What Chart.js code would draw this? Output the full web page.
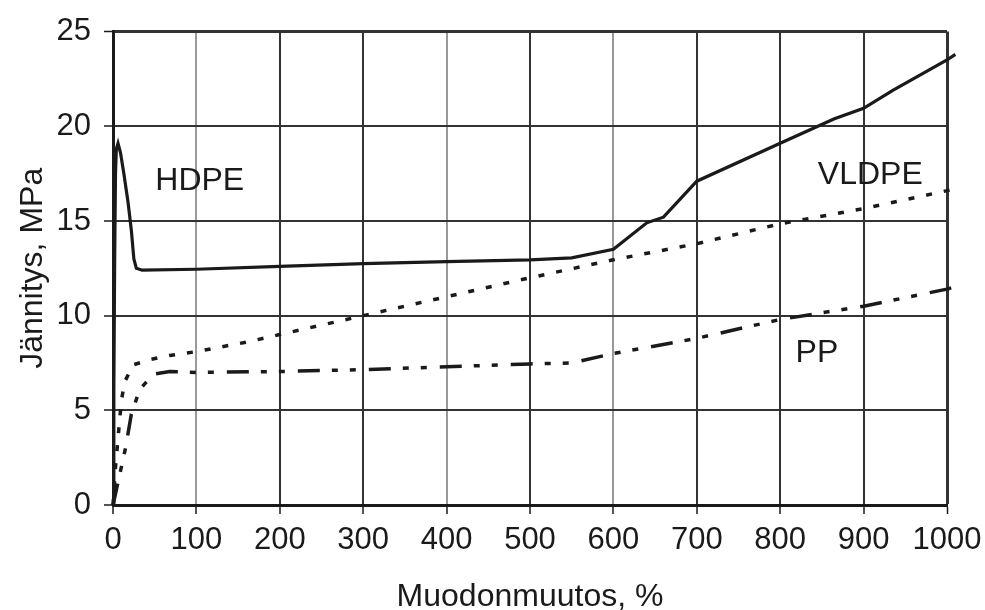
<!DOCTYPE html>
<html>
<head>
<meta charset="utf-8">
<script src="https://cdn.jsdelivr.net/npm/chart.js@4"></script>
<style>
  body { margin: 0; background: #fff; }
  canvas { display: block; }
</style>
</head>
<body>
<canvas id="myChart" width="985" height="610"></canvas>
<script>
// strain % (x) and stress MPa (y)
const hdpeX = [0, 1, 2, 3, 4, 6, 9, 13, 18, 22, 25, 28, 35, 100, 200, 300, 400, 500, 550, 600, 640, 660, 700, 800, 865, 900, 935, 1000, 1010]
const hdpeY = [0, 6, 13, 17.5, 18.8, 19.1, 18.6, 17.5, 16, 14.5, 13, 12.5, 12.4, 12.45, 12.6, 12.75, 12.85, 12.95, 13.05, 13.5, 14.9, 15.2, 17.1, 19.1, 20.4, 20.95, 21.9, 23.5, 23.8]

const vldpeX = [0, 3, 7, 10, 14, 24, 46, 68, 100, 160, 200, 250, 300, 400, 500, 600, 700, 800, 900, 1000, 1012]
const vldpeY = [0, 2, 4, 5.5, 6.5, 7.4, 7.7, 7.9, 8.1, 8.6, 9.0, 9.5, 10.0, 11.0, 12.0, 12.95, 13.8, 14.85, 15.65, 16.6, 16.75]

const ppX = [0, 5, 10, 15, 22, 32, 48, 68, 100, 200, 300, 400, 500, 550, 600, 700, 800, 900, 1000, 1008]
const ppY = [0, 1, 2, 3, 4.8, 6.1, 6.9, 7.05, 7.0, 7.05, 7.15, 7.3, 7.45, 7.5, 8.0, 8.8, 9.8, 10.5, 11.4, 11.5]

const curveNames = ["HDPE", "VLDPE", "PP"]
const xTitle = "Muodonmuutos, %"
const yTitle = "Jännitys, MPa"
const xMax = 1000

// where the curve names sit, in data units
const labelAt = [[104, 17.1], [908, 17.4], [844, 8.0]]

const toPoints = (xs, ys) => xs.map((x, i) => ({ x: x, y: ys[i] }))

const ink = "#1a1a1a"
const fontFamily = "'Liberation Sans', Arial, sans-serif"
const lineClip = { left: 5, top: 5, right: 15, bottom: 5 }

const curveLabels = {
    id: "curveLabels",
    afterDatasetsDraw(chart) {
        const ctx = chart.ctx
        const xs = chart.scales.x
        const ys = chart.scales.y
        ctx.save()
        ctx.fillStyle = ink
        ctx.font = "32px " + fontFamily
        ctx.textAlign = "center"
        ctx.textBaseline = "middle"
        curveNames.forEach((name, i) => {
            ctx.fillText(name, xs.getPixelForValue(labelAt[i][0]), ys.getPixelForValue(labelAt[i][1]))
        })
        ctx.restore()
    }
}

const lightX = [100, 400, 600]
const gridColor = (ctx) => lightX.includes(ctx.tick && ctx.tick.value) ? "#999" : "#333"
const gridWidthX = (ctx) => ctx.tick && ctx.tick.value === xMax ? 3 : 2
const gridWidthY = (ctx) => ctx.tick && ctx.tick.value === 25 ? 3 : 2

const ctx = document.getElementById("myChart").getContext("2d")
const chart = new Chart(ctx, {
    type: "line",
    data: {
        datasets: [
            {
                label: curveNames[0],
                data: toPoints(hdpeX, hdpeY),
                borderColor: ink,
                borderWidth: 3.2,
                clip: lineClip
            },
            {
                label: curveNames[1],
                data: toPoints(vldpeX, vldpeY),
                borderColor: ink,
                borderWidth: 3.5,
                borderDash: [6, 12],
                clip: lineClip
            },
            {
                label: curveNames[2],
                data: toPoints(ppX, ppY),
                borderColor: ink,
                borderWidth: 3.5,
                borderDash: [22, 12, 6, 12, 6, 13],
                clip: lineClip
            }
        ]
    },
    options: {
        responsive: false,
        animation: false,
        elements: { point: { radius: 0 }, line: { tension: 0 } },
        layout: { padding: { top: 29, right: 38, bottom: 0, left: 0 } },
        plugins: {
            legend: { display: false },
            tooltip: { enabled: false }
        },
        scales: {
            x: {
                type: "linear",
                min: 0,
                // max set after data limits so the curves may run a little past the frame
                afterDataLimits: (scale) => { scale.max = xMax },
                afterFit: (scale) => {
                    scale.height = 105
                    scale.paddingRight = 0
                    scale.paddingLeft = 0
                },
                ticks: {
                    stepSize: 100,
                    padding: 8,
                    autoSkip: false,
                    maxRotation: 0,
                    minRotation: 0,
                    color: ink,
                    font: { family: fontFamily, size: 31 },
                    callback: (v) => String(v)
                },
                grid: {
                    color: gridColor,
                    lineWidth: gridWidthX,
                    tickLength: 9,
                    tickColor: ink,
                    tickWidth: 1.5
                },
                border: { color: ink, width: 3 },
                title: {
                    display: true,
                    text: xTitle,
                    color: ink,
                    font: { family: fontFamily, size: 32, lineHeight: 1 },
                    padding: { top: 0, bottom: -3 }
                }
            },
            y: {
                type: "linear",
                min: 0,
                max: 25,
                afterFit: (scale) => { scale.width = 113 },
                ticks: {
                    stepSize: 5,
                    padding: 13,
                    color: ink,
                    font: { family: fontFamily, size: 31 }
                },
                grid: {
                    color: "#333",
                    lineWidth: gridWidthY,
                    tickLength: 9,
                    tickColor: ink,
                    tickWidth: 1.5
                },
                border: { color: ink, width: 3 },
                title: {
                    display: true,
                    text: yTitle,
                    color: ink,
                    font: { family: fontFamily, size: 32, lineHeight: 1 },
                    padding: { top: 17, bottom: 0 }
                }
            }
        }
    },
    plugins: [curveLabels]
})
</script>
</body>
</html>
